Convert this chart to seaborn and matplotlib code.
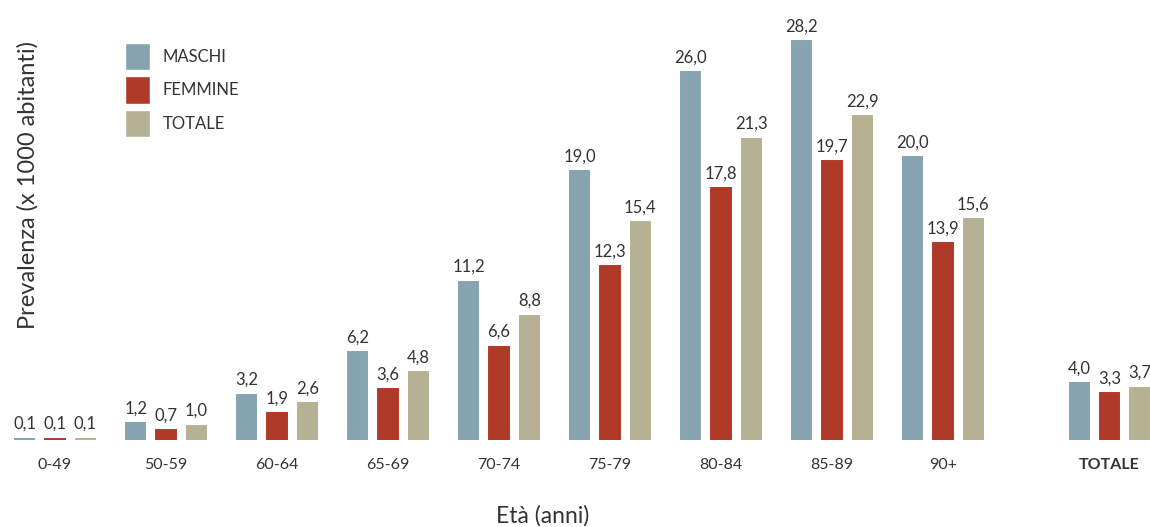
"""Prevalenza per classe di età e sesso (x 1000 abitanti)."""
import matplotlib.pyplot as plt
import numpy as np
import pandas as pd
import seaborn as sns

categories = ["0-49", "50-59", "60-64", "65-69", "70-74", "75-79",
              "80-84", "85-89", "90+", "TOTALE"]
maschi = [0.1, 1.2, 3.2, 6.2, 11.2, 19.0, 26.0, 28.2, 20.0, 4.0]
femmine = [0.1, 0.7, 1.9, 3.6, 6.6, 12.3, 17.8, 19.7, 13.9, 3.3]
totale = [0.1, 1.0, 2.6, 4.8, 8.8, 15.4, 21.3, 22.9, 15.6, 3.7]
series = ["MASCHI", "FEMMINE", "TOTALE"]
colors = ["#86A3B1", "#B03A28", "#B5B192"]

# group positions: the TOTALE group sits after an extra half gap
pos = np.append(np.arange(9), 9.5)

df = pd.DataFrame({
    "pos": np.tile(pos, 3),
    "val": maschi + femmine + totale,
    "serie": np.repeat(series, len(categories)),
})

sns.set_theme(style="white")
plt.rcParams["font.family"] = ["Lato", "DejaVu Sans"]
text_color = "#333333"

fig = plt.figure(figsize=(11.5, 5.27), dpi=100)
ax = fig.add_axes([0, 0.165, 1, 0.805])

sns.barplot(data=df, x="pos", y="val", hue="serie", hue_order=series,
            palette=colors, native_scale=True, width=0.82, gap=0.37,
            saturation=1, errorbar=None, ax=ax)

# edge in the bar colour so the tiny 0,1 bars stay visible
for cont, col in zip(ax.containers, colors):
    for r in cont:
        r.set_edgecolor(col)
        r.set_linewidth(1.4)

for cont in ax.containers:
    vals = [r.get_height() for r in cont]
    ax.bar_label(cont, labels=[f"{v:.1f}".replace(".", ",") for v in vals],
                 padding=5, fontsize=12, color=text_color)

ax.set_xlim(-55 / 111, (1150 - 55) / 111)
ax.set_ylim(0, 30)
ax.set_xticks(pos)
ax.set_xticklabels(categories, fontsize=11.5, color=text_color)
ax.get_xticklabels()[-1].set_fontweight("bold")
ax.tick_params(axis="x", length=0, pad=13)
ax.set_yticks([])
ax.set_xlabel("")
ax.set_ylabel("")
sns.despine(ax=ax, left=True, bottom=True)

fig.text(0.472, 0.022, "Età (anni)", ha="center", va="center",
         fontsize=16.5, color=text_color)
fig.text(0.024, 0.649, "Prevalenza (x 1000 abitanti)", rotation=90,
         ha="center", va="center", fontsize=17, color=text_color)

sns.move_legend(ax, "upper left", bbox_to_anchor=(110 / 1150, 1 - 28 / 527),
                bbox_transform=fig.transFigure, frameon=False, title=None,
                fontsize=12, handlelength=1.47, handleheight=2.16,
                labelspacing=0.36, handletextpad=0.78)
for t in ax.get_legend().get_texts():
    t.set_color(text_color)

plt.savefig("out.png")
